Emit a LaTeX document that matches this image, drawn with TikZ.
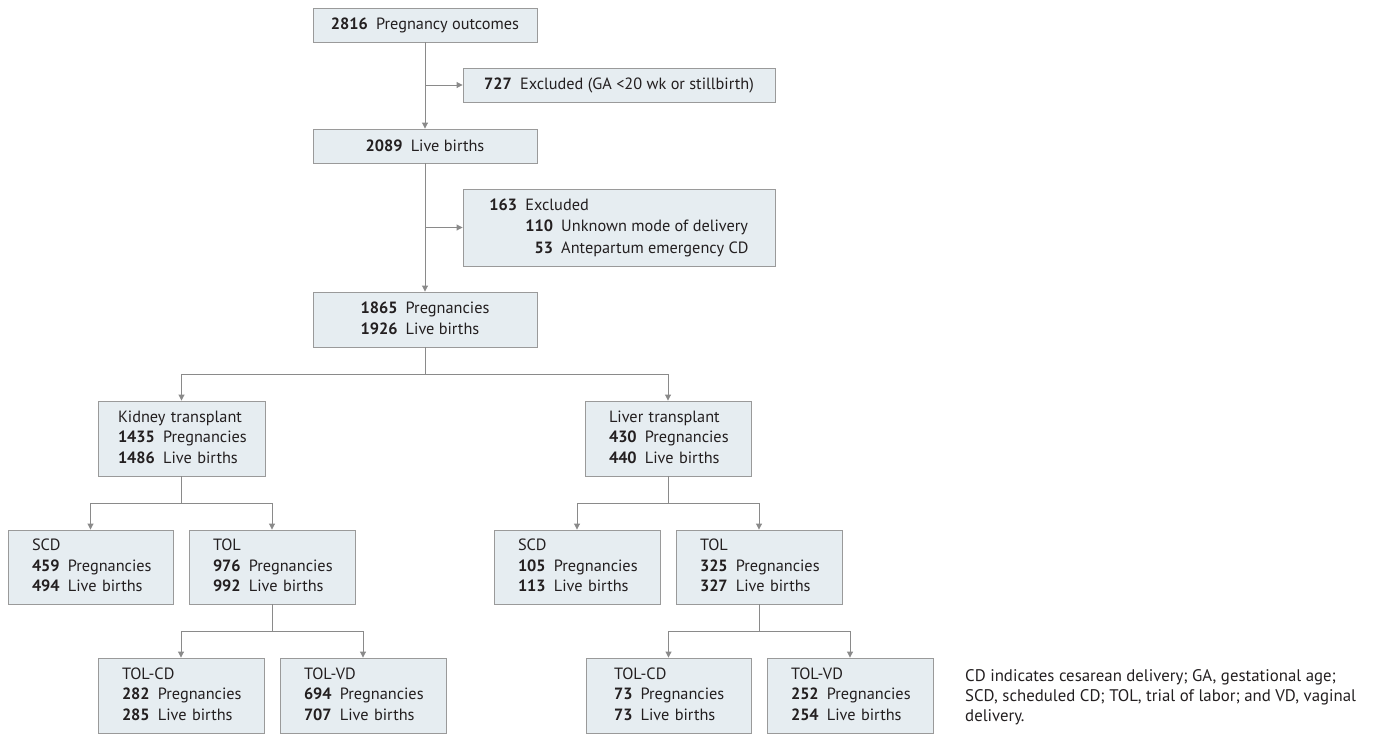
\documentclass[tikz,border=0pt]{standalone}
\usepackage{fontspec}
\setmainfont{PT Sans}
\usetikzlibrary{arrows.meta}
\definecolor{boxfill}{HTML}{E6EDF1}
\definecolor{boxline}{HTML}{9A9A9A}
\definecolor{conline}{HTML}{8A8A8A}
\definecolor{txt}{HTML}{231F20}
\newcommand{\nb}[1]{\textbf{#1}\hspace{0.5em}}
\newcommand{\tri}[3]{\renewcommand{\arraystretch}{1.0}\begin{tabular}{@{}l@{}}#1\\#2\\#3\end{tabular}}
\begin{document}
\begin{tikzpicture}[x=1pt,y=-1pt,
  box/.style={draw=boxline, fill=boxfill, line width=0.9pt, inner ysep=0pt,
    text=txt, font=\fontsize{16.3}{20.5}\selectfont},
  cbox/.style={box, inner xsep=0pt, align=center},
  lbox/.style={box, align=left},
  conn/.style={draw=conline, line width=0.9pt},
  arr/.style={conn, -{Triangle[length=6pt,width=6pt]}}]
\useasboundingbox (0,0) rectangle (1391,734);

% top chain
\node[cbox, minimum width=224, minimum height=34] (b2816) at (425,25) {\nb{2816}Pregnancy outcomes};
\node[cbox, minimum width=312, minimum height=34] (b727) at (619,85) {\nb{727}Excluded (GA <20 wk or stillbirth)};
\node[cbox, minimum width=224, minimum height=34] (b2089) at (425,146) {\nb{2089}Live births};
\node[cbox, minimum width=312, minimum height=77] (b163) at (619,227.5)
  {\renewcommand{\arraystretch}{1.05}\begin{tabular}{@{}r@{\hspace{0.5em}}r@{\hspace{0.5em}}l@{}}
   \textbf{163} & \multicolumn{2}{@{}l@{}}{Excluded}\\
   & \textbf{110} & Unknown mode of delivery\\
   & \textbf{53} & Antepartum emergency CD
   \end{tabular}};
\node[cbox, minimum width=224, minimum height=55] (b1865) at (425,319.5)
  {\renewcommand{\arraystretch}{1.05}\begin{tabular}{@{}r@{\hspace{0.5em}}l@{}}
   \textbf{1865} & Pregnancies\\
   \textbf{1926} & Live births
   \end{tabular}};

% transplant level
\node[lbox, inner xsep=20pt, text width=127pt, minimum height=75] (kid) at (181.5,438.5)
  {\tri{Kidney transplant}{\nb{1435}Pregnancies}{\nb{1486}Live births}};
\node[lbox, inner xsep=24pt, text width=118pt, minimum height=75] (liv) at (668,438.5)
  {\tri{Liver transplant}{\nb{430}Pregnancies}{\nb{440}Live births}};

% SCD / TOL level
\node[lbox, inner xsep=24pt, text width=117pt, minimum height=74] (scd1) at (90.5,567)
  {\tri{SCD}{\nb{459}Pregnancies}{\nb{494}Live births}};
\node[lbox, inner xsep=24pt, text width=118pt, minimum height=74] (tol1) at (272,567)
  {\tri{TOL}{\nb{976}Pregnancies}{\nb{992}Live births}};
\node[lbox, inner xsep=24pt, text width=118pt, minimum height=74] (scd2) at (577,567)
  {\tri{SCD}{\nb{105}Pregnancies}{\nb{113}Live births}};
\node[lbox, inner xsep=24pt, text width=118pt, minimum height=74] (tol2) at (759,567)
  {\tri{TOL}{\nb{325}Pregnancies}{\nb{327}Live births}};

% TOL-CD / TOL-VD level
\node[lbox, inner xsep=24pt, text width=118pt, minimum height=75] (tcd1) at (181,695.5)
  {\tri{TOL-CD}{\nb{282}Pregnancies}{\nb{285}Live births}};
\node[lbox, inner xsep=24pt, text width=118pt, minimum height=75] (tvd1) at (363,695.5)
  {\tri{TOL-VD}{\nb{694}Pregnancies}{\nb{707}Live births}};
\node[lbox, inner xsep=28pt, text width=109pt, minimum height=75] (tcd2) at (668.5,695.5)
  {\tri{TOL-CD}{\nb{73}Pregnancies}{\nb{73}Live births}};
\node[lbox, inner xsep=24pt, text width=118pt, minimum height=75] (tvd2) at (850,695.5)
  {\tri{TOL-VD}{\nb{252}Pregnancies}{\nb{254}Live births}};

% footnote
\node[anchor=north west, inner sep=0pt, align=left, text=txt,
  font=\fontsize{16.8}{20}\selectfont] (note) at (965,669)
  {CD indicates cesarean delivery; GA, gestational age;\\
   SCD, scheduled CD; TOL, trial of labor; and VD, vaginal\\
   delivery.};

% connectors
\draw[arr] (b2816.south) -- (b2089.north);
\draw[arr] (b2816.south |- b727.west) -- (b727.west);
\draw[arr] (b2089.south) -- (b1865.north);
\draw[arr] (b2089.south |- b163.west) -- (b163.west);

\coordinate (f1) at (425,374);
\draw[conn] (b1865.south) -- (f1);
\draw[arr] (f1) -| (kid.north);
\draw[arr] (f1) -| (liv.north);

\coordinate (f2) at (181.5,503);
\draw[conn] (kid.south) -- (f2);
\draw[arr] (f2) -| (scd1.north);
\draw[arr] (f2) -| (tol1.north);

\coordinate (f3) at (668,503);
\draw[conn] (liv.south) -- (f3);
\draw[arr] (f3) -| (scd2.north);
\draw[arr] (f3) -| (tol2.north);

\coordinate (f4) at (272,631);
\draw[conn] (tol1.south) -- (f4);
\draw[arr] (f4) -| (tcd1.north);
\draw[arr] (f4) -| (tvd1.north);

\coordinate (f5) at (759,631);
\draw[conn] (tol2.south) -- (f5);
\draw[arr] (f5) -| (tcd2.north);
\draw[arr] (f5) -| (tvd2.north);
\end{tikzpicture}
\end{document}
